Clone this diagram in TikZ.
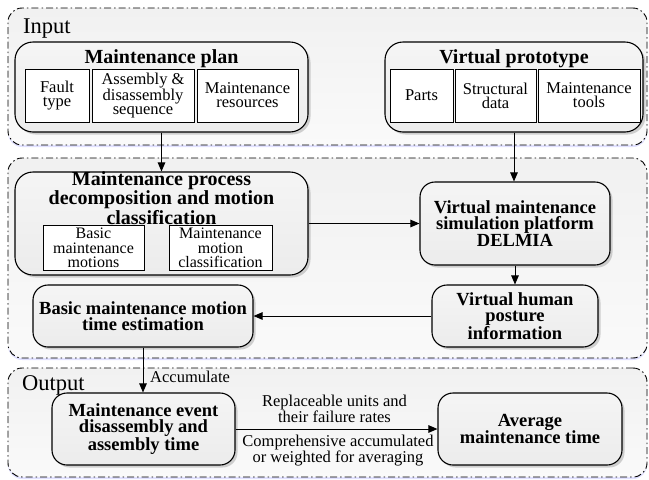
\documentclass[tikz,border=0pt]{standalone}
\usepackage{fontspec}
\setmainfont{Liberation Serif}
\usetikzlibrary{arrows.meta,shadows}
\begin{document}
\begin{tikzpicture}[x=1pt,y=-1pt,
  outer/.style={draw, line width=0.9pt, dash pattern=on 7pt off 3pt on 1.5pt off 3pt,
    rounded corners=14pt, top color=gray!11, bottom color=gray!4,
    drop shadow={shadow xshift=0pt, shadow yshift=-2pt, fill=blue!35, opacity=0.35}},
  rbox/.style={draw, line width=1.1pt, rounded corners=15pt, top color=gray!8, bottom color=gray!15,
    drop shadow={shadow xshift=2.5pt, shadow yshift=-2.5pt, opacity=0.35},
    inner sep=0pt, align=center, font=\bfseries\fontsize{18.5}{16}\selectfont},
  ibox/.style={draw, line width=0.9pt, fill=white, inner sep=0pt, align=center,
    font=\fontsize{16.5}{14}\selectfont},
  title/.style={inner sep=0pt, align=center, font=\bfseries\fontsize{20}{17}\selectfont},
  lbl/.style={inner sep=0pt, align=center, font=\fontsize{16.5}{16}\selectfont},
  sec/.style={inner sep=0pt, anchor=base west, font=\fontsize{22.5}{24}\selectfont},
  arr/.style={line width=1pt, -{Triangle[length=9pt,width=7.5pt]}}
]
\useasboundingbox (0,0) rectangle (649,480);
% section frames
\node[outer, minimum width=639pt, minimum height=137pt] (inp) at (327.5,76.5) {};
\node[outer, minimum width=639pt, minimum height=200pt] (mid) at (327.5,258) {};
\node[outer, minimum width=639pt, minimum height=109pt] (outp) at (327.5,422.5) {};
\node[sec] (inlbl) at (23,33) {Input};
\node[sec] (outlbl) at (22,390) {Output};

% Maintenance plan
\node[rbox, rounded corners=18pt, minimum width=293pt, minimum height=90pt] (plan) at (161.5,87) {};
\node[title, anchor=base] (plant) at (161.5,63) {Maintenance plan};
\node[ibox, minimum width=64pt, minimum height=53pt] (fault) at (57,95.5) {Fault\\type};
\node[ibox, minimum width=102pt, minimum height=53pt] (seq) at (143,95.5) {Assembly \&\\disassembly\\sequence};
\node[ibox, minimum width=101pt, minimum height=53pt] (res) at (247.5,95.5) {Maintenance\\resources};

% Virtual prototype
\node[rbox, rounded corners=18pt, minimum width=258pt, minimum height=90pt] (proto) at (514,87) {};
\node[title, anchor=base] (protot) at (514,63) {Virtual prototype};
\node[ibox, minimum width=63pt, minimum height=53pt] (parts) at (421.5,95.5) {Parts};
\node[ibox, minimum width=81pt, minimum height=53pt] (struct) at (495.5,95.5) {Structural\\data};
\node[ibox, minimum width=102pt, minimum height=53pt] (tools) at (589,95.5) {Maintenance\\tools};

% Maintenance process decomposition
\node[rbox, rounded corners=18pt, minimum width=293pt, minimum height=103pt] (proc) at (161.5,223.5) {};
\node[title] (proct) at (161.5,198) {Maintenance process\\decomposition and motion\\classification};
\node[ibox, minimum width=101pt, minimum height=45pt, font=\fontsize{16}{14.5}\selectfont] (basicm) at (93.5,248) {Basic\\maintenance\\motions};
\node[ibox, minimum width=103pt, minimum height=45pt, font=\fontsize{16}{14.5}\selectfont] (classm) at (220.5,248) {Maintenance\\motion\\classification};

% DELMIA
\node[rbox, minimum width=190pt, minimum height=83pt] (vm) at (515,223.5) {Virtual maintenance\\simulation platform\\DELMIA};
% posture
\node[rbox, minimum width=166pt, minimum height=62pt, font=\bfseries\fontsize{18.5}{15.5}\selectfont] (post) at (515,316) {Virtual human\\posture\\information};
% time estimation
\node[rbox, minimum width=220pt, minimum height=62pt] (est) at (143,316) {Basic maintenance motion\\time estimation};
% output
\node[rbox, minimum width=183pt, minimum height=72pt] (event) at (143.5,429) {Maintenance event\\disassembly and\\assembly time};
\node[rbox, minimum width=184pt, minimum height=72pt] (avg) at (530,429) {Average\\maintenance time};

% connectors
\draw[arr] (plan.south) -- (plan.south |- proc.north);
\draw[arr] (proto.south) -- (proto.south |- vm.north);
\draw[arr] (proc.east) -- (vm.west);
\draw[arr] (vm.south) -- (vm.south |- post.north);
\draw[arr] (post.west) -- (est.east);
\draw[arr] (est.south) -- (est.south |- event.north);
\node[lbl, anchor=base west] (acc) at (150,382) {Accumulate};
\draw[arr] (event.east) -- (avg.west);
\node[lbl] (rep) at (334.5,409) {Replaceable units and\\their failure rates};
\node[lbl] (comp) at (338,451) {Comprehensive accumulated\\or weighted for averaging};
\end{tikzpicture}
\end{document}
